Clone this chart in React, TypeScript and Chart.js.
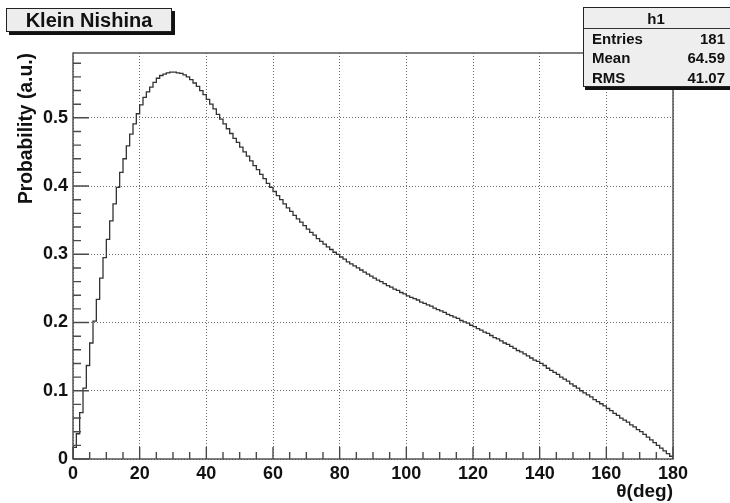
import React, { useEffect, useRef } from "react";
import { Chart, registerables } from "chart.js";

Chart.register(...registerables);

// ---- data ----
const THETA_MIN = 0;
const THETA_MAX = 180;
const BIN_WIDTH = 1;

// histogram "h1": content of each 1-degree bin
const binValues: number[] = [
  0.017, 0.037, 0.068, 0.104, 0.137, 0.170, 0.202, 0.234, 0.265, 0.295,
  0.322, 0.349, 0.374, 0.398, 0.420, 0.440, 0.459, 0.476, 0.491, 0.506,
  0.519, 0.530, 0.538, 0.545, 0.552, 0.558, 0.562, 0.564, 0.566, 0.567,
  0.567, 0.566, 0.565, 0.563, 0.560, 0.556, 0.551, 0.546, 0.540, 0.534,
  0.527, 0.520, 0.513, 0.505, 0.498, 0.491, 0.484, 0.477, 0.470, 0.464,
  0.457, 0.450, 0.444, 0.437, 0.430, 0.424, 0.417, 0.411, 0.404, 0.398,
  0.392, 0.386, 0.380, 0.374, 0.368, 0.363, 0.357, 0.352, 0.347, 0.342,
  0.337, 0.332, 0.328, 0.323, 0.319, 0.315, 0.311, 0.307, 0.303, 0.300,
  0.296, 0.293, 0.289, 0.286, 0.283, 0.280, 0.277, 0.274, 0.271, 0.268,
  0.265, 0.262, 0.260, 0.257, 0.254, 0.252, 0.249, 0.247, 0.244, 0.242,
  0.239, 0.237, 0.235, 0.233, 0.230, 0.228, 0.226, 0.224, 0.221, 0.219,
  0.217, 0.215, 0.212, 0.210, 0.208, 0.206, 0.203, 0.201, 0.199, 0.196,
  0.194, 0.191, 0.189, 0.186, 0.184, 0.181, 0.178, 0.176, 0.173, 0.170,
  0.168, 0.165, 0.162, 0.159, 0.157, 0.154, 0.151, 0.148, 0.145, 0.143,
  0.140, 0.137, 0.133, 0.130, 0.127, 0.124, 0.120, 0.117, 0.114, 0.110,
  0.107, 0.104, 0.100, 0.097, 0.094, 0.091, 0.087, 0.084, 0.081, 0.078,
  0.074, 0.071, 0.067, 0.064, 0.060, 0.057, 0.054, 0.050, 0.047, 0.043,
  0.040, 0.036, 0.032, 0.028, 0.024, 0.020, 0.016, 0.012, 0.008, 0.004,
];

const xTickValues = [0, 20, 40, 60, 80, 100, 120, 140, 160, 180];
const xTickLabels = ["0", "20", "40", "60", "80", "100", "120", "140", "160", "180"];
const yTickValues = [0, 0.1, 0.2, 0.3, 0.4, 0.5];
const yTickLabels = ["0", "0.1", "0.2", "0.3", "0.4", "0.5"];
const X_MINOR_STEP = 5;
const Y_MINOR_STEP = 0.02;
const Y_MAX = 0.595;

const chartTitle = "Klein Nishina";
const xAxisTitle = "θ(deg)";
const yAxisTitle = "Probability (a.u.)";

const statsName = "h1";
const statsLabels = ["Entries", "Mean", "RMS"];
const statsValues = ["181", "64.59", "41.07"];

const FONT = '"Liberation Sans", Arial, Helvetica, sans-serif';

const frameTicksPlugin = {
  id: "frameTicks",
  afterDatasetsDraw(chart: any) {
    const { ctx, chartArea: a, scales } = chart;
    const x = scales.x;
    const y = scales.y;
    ctx.save();
    ctx.strokeStyle = "#4a4a4a";
    ctx.lineWidth = 1.4;
    ctx.beginPath();
    // y ticks drawn inside the frame
    for (let k = 0; ; k++) {
      const v = k * Y_MINOR_STEP;
      if (v > Y_MAX + 1e-9) break;
      const py = y.getPixelForValue(v);
      const isMajor = yTickValues.some((t) => Math.abs(t - v) < 1e-6);
      ctx.moveTo(a.left, py);
      ctx.lineTo(a.left + (isMajor ? 16 : 8), py);
    }
    // x ticks drawn inside the frame
    for (let k = 0; ; k++) {
      const v = THETA_MIN + k * X_MINOR_STEP;
      if (v > THETA_MAX + 1e-9) break;
      const px = x.getPixelForValue(v);
      const isMajor = xTickValues.some((t) => Math.abs(t - v) < 1e-6);
      ctx.moveTo(px, a.bottom);
      ctx.lineTo(px, a.bottom - (isMajor ? 12 : 7));
    }
    ctx.stroke();
    ctx.strokeRect(a.left, a.top, a.right - a.left, a.bottom - a.top);
    ctx.restore();
  },
};

export default function App() {
  const canvasRef = useRef<HTMLCanvasElement | null>(null);

  useEffect(() => {
    const canvas = canvasRef.current;
    if (!canvas) return;

    const points: { x: number; y: number }[] = [{ x: THETA_MIN, y: 0 }];
    binValues.forEach((v, i) => points.push({ x: THETA_MIN + i * BIN_WIDTH, y: v }));
    points.push({ x: THETA_MAX, y: 0 });

    const chart = new Chart(canvas, {
      type: "line",
      data: {
        datasets: [
          {
            label: statsName,
            data: points,
            stepped: "before",
            borderColor: "#333333",
            borderWidth: 1.3,
            pointRadius: 0,
            fill: false,
            tension: 0,
          },
        ],
      },
      options: {
        animation: false,
        responsive: false,
        devicePixelRatio: 1,
        layout: { padding: { left: 0, top: 53, right: 57, bottom: 0 } },
        plugins: {
          legend: { display: false },
          tooltip: { enabled: false },
          title: { display: false },
        },
        scales: {
          x: {
            type: "linear",
            min: THETA_MIN,
            max: THETA_MAX,
            afterBuildTicks: (s: any) => {
              s.ticks = xTickValues.map((v) => ({ value: v }));
            },
            afterFit: (s: any) => {
              s.height = 44;
              s.paddingLeft = 0;
              s.paddingRight = 0;
            },
            ticks: {
              callback: (_v: any, i: number) => xTickLabels[i],
              font: { family: FONT, size: 18, weight: "bold" },
              color: "#111",
              padding: 4,
              maxRotation: 0,
              autoSkip: false,
            },
            grid: {
              display: true,
              drawTicks: false,
              color: "#6a6a6a",
              lineWidth: 1,
            },
            border: { display: false, dash: [1, 2] },
            title: {
              display: true,
              text: xAxisTitle,
              align: "end",
              font: { family: FONT, size: 19, weight: "bold" },
              color: "#111",
              padding: { top: 0, bottom: 0 },
            },
          },
          y: {
            type: "linear",
            min: 0,
            max: Y_MAX,
            afterBuildTicks: (s: any) => {
              s.ticks = yTickValues.map((v) => ({ value: v }));
            },
            afterFit: (s: any) => {
              s.width = 73;
              s.paddingTop = 0;
              s.paddingBottom = 0;
            },
            ticks: {
              callback: (_v: any, i: number) => yTickLabels[i],
              font: { family: FONT, size: 18, weight: "bold" },
              color: "#111",
              padding: 5,
              autoSkip: false,
            },
            grid: {
              display: true,
              drawTicks: false,
              color: "#6a6a6a",
              lineWidth: 1,
            },
            border: { display: false, dash: [1, 2] },
            title: {
              display: true,
              text: yAxisTitle,
              align: "end",
              font: { family: FONT, size: 19.3, weight: "bold" },
              color: "#111",
              padding: { top: 15, bottom: 0 },
            },
          },
        },
      },
      plugins: [frameTicksPlugin],
    } as any);

    return () => chart.destroy();
  }, []);

  return (
    <div
      style={{
        position: "absolute",
        left: 0,
        top: 0,
        width: 730,
        height: 503,
        overflow: "hidden",
        background: "#ffffff",
      }}
    >
      <canvas ref={canvasRef} width={730} height={503} style={{ display: "block" }} />
      <div
        style={{
          position: "absolute",
          left: 6,
          top: 8,
          width: 166,
          height: 24,
          boxSizing: "border-box",
          background: "#ededed",
          border: "1px solid #222",
          boxShadow: "3px 3px 0 #111",
          display: "flex",
          alignItems: "center",
          justifyContent: "center",
          font: `bold 20px ${FONT}`,
          color: "#111",
        }}
      >
        {chartTitle}
      </div>
      <div
        style={{
          position: "absolute",
          left: 583,
          top: 7,
          width: 150,
          height: 80,
          boxSizing: "border-box",
          background: "#eeeeee",
          border: "1px solid #222",
          boxShadow: "2px 3px 0 #111",
          font: `bold 15px ${FONT}`,
          color: "#111",
        }}
      >
        <div
          style={{
            height: 21,
            lineHeight: "21px",
            textAlign: "center",
            borderBottom: "1px solid #333",
            boxSizing: "border-box",
            paddingRight: 4,
          }}
        >
          {statsName}
        </div>
        {statsLabels.map((lab, i) => (
          <div
            key={lab}
            style={{
              display: "flex",
              justifyContent: "space-between",
              height: 19.3,
              lineHeight: "19.3px",
              paddingLeft: 8,
              paddingRight: 7,
            }}
          >
            <span>{lab}</span>
            <span>{statsValues[i]}</span>
          </div>
        ))}
      </div>
    </div>
  );
}
